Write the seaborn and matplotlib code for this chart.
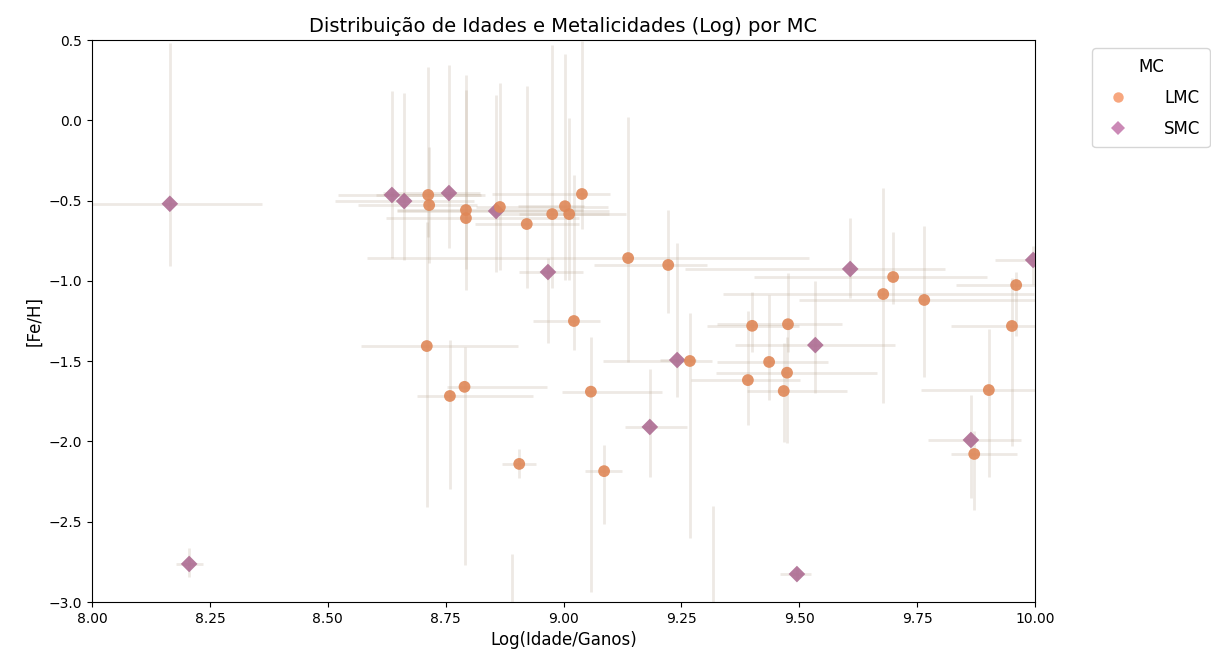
import numpy as np
import pandas as pd
import matplotlib
matplotlib.use("Agg")
import matplotlib.pyplot as plt
import seaborn as sns

# Magellanic Cloud clusters: log(age/yr), [Fe/H] and asymmetric uncertainties
mc = (["SMC"] * 14) + (["LMC"] * 35)

log_age = [8.165, 8.206, 8.636, 8.662, 8.757, 8.857, 8.967, 9.241, 9.183, 9.495,
           9.534, 9.608, 9.864, 9.996,
           8.713, 8.715, 8.793, 8.793, 8.865, 8.922, 8.976, 9.003, 9.012, 9.039,
           9.137, 9.222, 9.022, 9.699, 9.678, 9.765, 9.960, 9.951, 9.400, 9.476,
           9.391, 9.436, 9.474, 9.467, 9.902, 9.871, 8.710, 8.790, 8.759, 8.906,
           9.058, 9.086, 9.268, 8.890, 9.317]

feh = [-0.520, -2.763, -0.465, -0.503, -0.453, -0.565, -0.945, -1.493, -1.910, -2.826,
       -1.400, -0.926, -1.991, -0.870,
       -0.465, -0.528, -0.559, -0.609, -0.540, -0.646, -0.584, -0.535, -0.584, -0.459,
       -0.858, -0.901, -1.250, -0.976, -1.082, -1.119, -1.026, -1.281, -1.280, -1.270,
       -1.618, -1.505, -1.572, -1.686, -1.680, -2.078, -1.406, -1.660, -1.717, -2.140,
       -1.690, -2.185, -1.499, -3.300, -3.300]

age_err_lo = [0.370, 0.028, 0.114, 0.147, 0.140, 0.210, 0.062, 0.036, 0.053, 0.035,
              0.170, 0.350, 0.090, 0.080,
              0.110, 0.151, 0.146, 0.170, 0.050, 0.110, 0.070, 0.100, 0.160, 0.190,
              0.554, 0.157, 0.087, 0.295, 0.340, 0.265, 0.127, 0.130, 0.096, 0.150,
              0.120, 0.110, 0.150, 0.077, 0.144, 0.050, 0.139, 0.037, 0.069, 0.036,
              0.061, 0.040, 0.184, 0.050, 0.050]

age_err_hi = [0.195, 0.029, 0.190, 0.148, 0.066, 0.240, 0.074, 0.040, 0.079, 0.030,
              0.170, 0.200, 0.106, 0.100,
              0.120, 0.102, 0.248, 0.240, 0.230, 0.110, 0.120, 0.040, 0.120, 0.060,
              0.384, 0.082, 0.055, 0.199, 0.320, 0.235, 0.060, 0.100, 0.100, 0.115,
              0.110, 0.125, 0.190, 0.135, 0.100, 0.090, 0.194, 0.175, 0.176, 0.036,
              0.151, 0.038, 0.047, 0.050, 0.050]

feh_err_lo = [0.390, 0.080, 0.390, 0.370, 0.340, 0.380, 0.440, 0.230, 0.310, 0.030,
              0.300, 0.180, 0.360, 0.150,
              0.260, 0.360, 0.370, 0.450, 0.390, 0.400, 0.460, 0.460, 0.410, 0.220,
              0.650, 0.300, 0.180, 0.170, 0.680, 0.480, 0.320, 0.750, 0.160, 0.170,
              0.280, 0.240, 0.440, 0.320, 0.540, 0.350, 1.000, 1.110, 0.580, 0.090,
              1.250, 0.330, 1.100, 0.300, 0.300]

feh_err_hi = [1.000, 0.100, 0.645, 0.670, 0.800, 0.720, 0.090, 0.730, 0.360, 0.030,
              0.400, 0.320, 0.280, 0.090,
              0.800, 0.360, 0.840, 0.800, 0.770, 0.860, 1.050, 0.950, 0.600, 0.950,
              0.880, 0.340, 0.910, 0.280, 0.660, 0.460, 0.080, 0.300, 0.210, 0.320,
              0.430, 0.420, 0.220, 0.300, 0.380, 0.140, 0.770, 0.250, 0.350, 0.090,
              0.340, 0.160, 0.300, 0.600, 0.900]

df = pd.DataFrame({
    "MC": mc,
    "LogIdade": log_age,
    "FeH": feh,
    "x_lo": age_err_lo, "x_hi": age_err_hi,
    "y_lo": feh_err_lo, "y_hi": feh_err_hi,
})

point_colors = {"LMC": "#df8757", "SMC": "#ad6c92"}
legend_colors = {"LMC": "#f7a77f", "SMC": "#cb89b6"}
markers = {"LMC": "o", "SMC": "D"}

fig, ax = plt.subplots(figsize=(12.11, 6.58), dpi=100)
fig.subplots_adjust(left=0.076, right=0.8547, top=0.9392, bottom=0.0851)

# uncertainty bars underneath the markers
ax.errorbar(df["LogIdade"], df["FeH"],
            xerr=[df["x_lo"], df["x_hi"]], yerr=[df["y_lo"], df["y_hi"]],
            fmt="none", ecolor="#b8a690", alpha=0.24, elinewidth=2, capsize=0, zorder=1)

sns.scatterplot(data=df, x="LogIdade", y="FeH", hue="MC", style="MC",
                hue_order=["LMC", "SMC"], style_order=["LMC", "SMC"],
                palette=point_colors, markers=markers, s=72, alpha=0.9,
                linewidth=0, ax=ax, zorder=3)

ax.set_xlim(8.0, 10.0)
ax.set_ylim(-3.0, 0.5)
ax.set_title("Distribuição de Idades e Metalicidades (Log) por MC", fontsize=14)
ax.set_xlabel("Log(Idade/Ganos)", fontsize=12)
ax.set_ylabel("[Fe/H]", fontsize=12)

handles, labels = ax.get_legend_handles_labels()
for h, lab in zip(handles, labels):
    if lab in legend_colors:
        c = legend_colors[lab]
        if hasattr(h, "set_markerfacecolor"):
            h.set_markerfacecolor(c)
            h.set_markeredgecolor(c)
            h.set_markersize(7.5)
        else:
            h.set_facecolor(c)
            h.set_edgecolor(c)
        h.set_alpha(1.0)
leg = ax.legend(handles, labels, title="MC", loc="upper left",
                bbox_to_anchor=(1.052, 1.0), fontsize=12, title_fontsize=12,
                handletextpad=1.75, labelspacing=0.8, borderpad=0.55)

fig.savefig("out.png", dpi=100)
